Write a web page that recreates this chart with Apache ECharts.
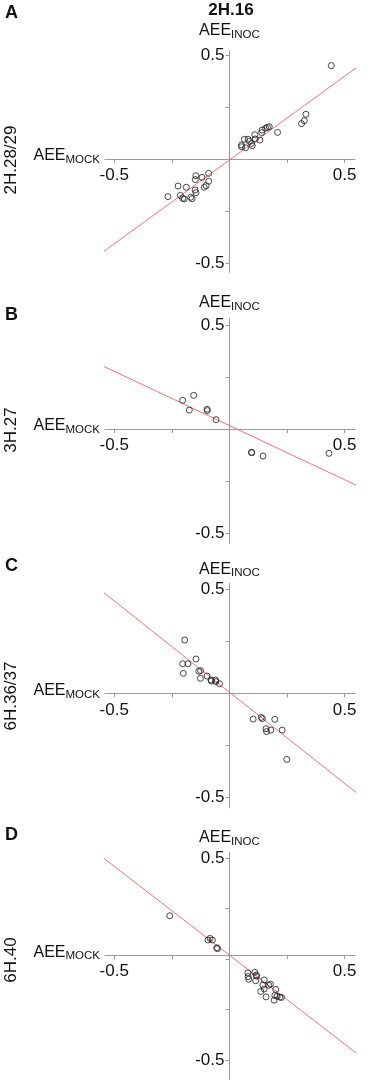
<!DOCTYPE html>
<html><head><meta charset="utf-8">
<script src="https://cdn.jsdelivr.net/npm/echarts@6/dist/echarts.min.js"></script>
<style>html,body{margin:0;padding:0;background:#fff}#c{width:373px;height:1080px}</style>
</head><body><div id="c"></div>
<script>
// ---- data ----
const columnLabel = '2H.16';
const panelLetters = ['A', 'B', 'C', 'D'];
const rowLabels = ['2H.28/29', '3H.27', '6H.36/37', '6H.40'];
const xAxisName = 'MOCK';
const yAxisName = 'INOC';
const tickValues = [-0.5, -0.25, 0, 0.25, 0.5];
const tickLabelValues = [-0.5, 0.5];

const pointsA = [
  [0.442, 0.449], [0.332, 0.215], [0.325, 0.184], [0.313, 0.170], [0.209, 0.128],
  [0.173, 0.155], [0.165, 0.152], [0.157, 0.148], [0.142, 0.139], [0.140, 0.127],
  [0.132, 0.091], [0.110, 0.117], [0.112, 0.096], [0.096, 0.075], [0.099, 0.064],
  [0.087, 0.085], [0.081, 0.095], [0.065, 0.095], [0.070, 0.054], [0.052, 0.067],
  [0.053, 0.059],
  [-0.267, -0.181], [-0.223, -0.130], [-0.213, -0.175], [-0.203, -0.189], [-0.196, -0.192],
  [-0.187, -0.136], [-0.168, -0.184], [-0.162, -0.191], [-0.149, -0.149], [-0.145, -0.162],
  [-0.146, -0.080], [-0.148, -0.099], [-0.119, -0.088], [-0.109, -0.136], [-0.101, -0.128],
  [-0.090, -0.069], [-0.090, -0.107]
];
const pointsB = [
  [-0.203, 0.138], [-0.155, 0.162], [-0.174, 0.091], [-0.097, 0.095], [-0.096, 0.088],
  [-0.058, 0.045], [0.096, -0.112], [0.097, -0.114], [0.146, -0.130], [0.432, -0.117]
];
const pointsC = [
  [-0.194, 0.257], [-0.145, 0.166], [-0.203, 0.143], [-0.180, 0.143], [-0.200, 0.097],
  [-0.133, 0.107], [-0.125, 0.110], [-0.126, 0.073], [-0.097, 0.084], [-0.080, 0.065],
  [-0.078, 0.060], [-0.060, 0.064], [-0.059, 0.057], [-0.043, 0.047],
  [0.103, -0.123], [0.138, -0.115], [0.143, -0.121], [0.197, -0.124], [0.159, -0.169],
  [0.161, -0.183], [0.180, -0.176], [0.229, -0.176], [0.249, -0.317]
];
const pointsD = [
  [-0.259, 0.214], [-0.093, 0.094], [-0.084, 0.102], [-0.074, 0.094], [-0.055, 0.056],
  [-0.052, 0.051],
  [0.080, -0.069], [0.081, -0.087], [0.084, -0.100], [0.110, -0.066], [0.116, -0.080],
  [0.119, -0.085], [0.114, -0.108], [0.151, -0.104], [0.145, -0.130], [0.151, -0.149],
  [0.136, -0.161], [0.171, -0.130], [0.178, -0.125], [0.159, -0.188], [0.201, -0.151],
  [0.197, -0.181], [0.207, -0.185], [0.194, -0.204], [0.219, -0.189], [0.226, -0.191]
];
const fitA = [[-0.597, -0.486], [0.609, 0.486]];
const fitB = [[-0.597, 0.328], [0.609, -0.301]];
const fitC = [[-0.597, 0.530], [0.609, -0.528]];
const fitD = [[-0.597, 0.545], [0.609, -0.518]];

const points = [pointsA, pointsB, pointsC, pointsD];
const fits = [fitA, fitB, fitC, fitD];

// ---- layout ----
const FONT = "'Liberation Sans', Arial, Helvetica, sans-serif";
const xMin = -0.54, xMax = 0.545;
const gridLeft = 105, gridWidth = 250;
const xPxPerUnit = gridWidth / (xMax - xMin);
const yMax = [0.52, 0.53, 0.53, 0.53];
const yMin = [-0.545, -0.55, -0.55, -0.6];
const zeroY = [159, 429, 693.5, 962.3];
const pxPerUnit = 208;
const nameGaps = [10, 6, 4, 4];
const letterY = [13, 315.5, 566.5, 835];
const rowLabelY = [160, 430, 696, 960];
const AXIS = '#9a9a9a';
const TXT = '#111';

const rich = {
  m: { fontSize: 16, fontFamily: FONT, color: TXT, lineHeight: 20 },
  s: { fontSize: 11.5, fontFamily: FONT, color: TXT, verticalAlign: 'bottom' }
};

const grids = [], xAxes = [], yAxes = [], series = [], graphics = [];
for (let i = 0; i < 4; i++) {
  const top = zeroY[i] - yMax[i] * pxPerUnit;
  const height = (yMax[i] - yMin[i]) * pxPerUnit;
  grids.push({ left: gridLeft, width: gridWidth, top: top, height: height, containLabel: false });
  xAxes.push({
    gridIndex: i, type: 'value', min: xMin, max: xMax, position: 'bottom',
    offset: yMin[i] * pxPerUnit,
    axisLine: { onZero: false, lineStyle: { color: AXIS, width: 1 } },
    axisTick: { show: true, length: 4, customValues: tickValues, lineStyle: { color: AXIS, width: 1 } },
    axisLabel: { customValues: tickLabelValues, formatter: v => String(v), fontSize: 17, fontFamily: FONT, color: TXT, margin: 8 },
    splitLine: { show: false },
    name: '{m|AEE}{s|' + xAxisName + '}', nameLocation: 'start', nameGap: 5,
    nameTextStyle: { rich: rich, align: 'right', verticalAlign: 'middle', padding: [0, 0, 6, 0] }
  });
  yAxes.push({
    gridIndex: i, type: 'value', min: yMin[i], max: yMax[i], position: 'left',
    offset: xMin * xPxPerUnit,
    axisLine: { onZero: false, lineStyle: { color: AXIS, width: 1 } },
    axisTick: { show: true, length: 4, customValues: tickValues, lineStyle: { color: AXIS, width: 1 } },
    axisLabel: { customValues: tickLabelValues, formatter: v => String(v), fontSize: 17, fontFamily: FONT, color: TXT, margin: 5 },
    splitLine: { show: false },
    name: '{m|AEE}{s|' + yAxisName + '}', nameLocation: 'end', nameGap: nameGaps[i],
    nameTextStyle: { rich: rich, align: 'center' }
  });
  series.push({
    type: 'line', xAxisIndex: i, yAxisIndex: i, data: fits[i], clip: false,
    symbol: 'none', silent: true, lineStyle: { color: '#f07272', width: 1 }, z: 2
  });
  series.push({
    type: 'scatter', xAxisIndex: i, yAxisIndex: i, data: points[i], symbol: 'circle', symbolSize: 6,
    itemStyle: { color: 'rgba(255,255,255,0)', borderColor: '#1a1a1a', borderWidth: 1 }, z: 3, silent: true
  });
  graphics.push({
    type: 'text', x: 5, y: letterY[i],
    style: { text: panelLetters[i], font: 'bold 18px ' + FONT, fill: TXT, align: 'left', verticalAlign: 'middle', textAlign: 'left', textVerticalAlign: 'middle' }
  });
  graphics.push({
    type: 'text', x: 11, y: rowLabelY[i], rotation: Math.PI / 2,
    style: { text: rowLabels[i], font: '17px ' + FONT, fill: TXT, align: 'center', verticalAlign: 'middle', textAlign: 'center', textVerticalAlign: 'middle' }
  });
}
graphics.push({
  type: 'text', x: 231, y: 10,
  style: { text: columnLabel, font: 'bold 17px ' + FONT, fill: TXT, align: 'center', verticalAlign: 'middle', textAlign: 'center', textVerticalAlign: 'middle' }
});

const chart = echarts.init(document.getElementById('c'), null, { renderer: 'canvas' });
chart.setOption({
  backgroundColor: '#fff',
  animation: false,
  grid: grids, xAxis: xAxes, yAxis: yAxes, series: series, graphic: graphics
});
</script></body></html>
